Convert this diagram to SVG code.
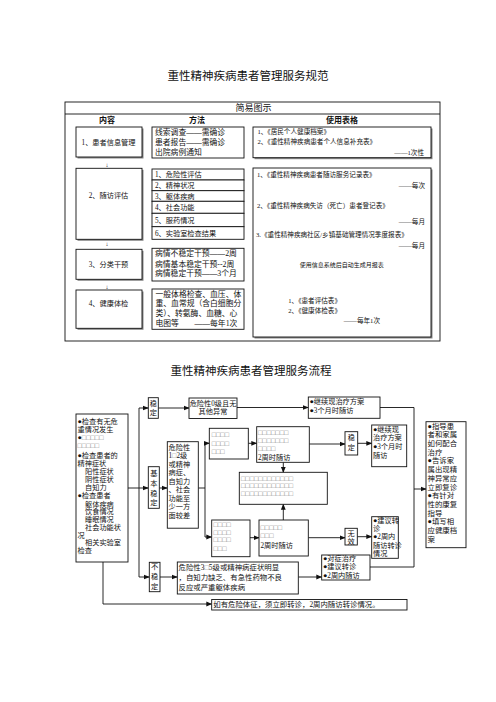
<svg xmlns="http://www.w3.org/2000/svg" width="496" height="702" viewBox="0 0 496 702">
<defs>
<style>
text{font-family:"Liberation Serif","Noto Sans CJK SC",serif;fill:#111}
.ttl{font-family:"Noto Sans CJK SC","Liberation Sans",sans-serif;font-size:11.5px;text-anchor:middle}
.hd{font-family:"Noto Sans CJK SC","Liberation Sans",sans-serif;font-size:8px;font-weight:bold;text-anchor:middle}
.b{fill:#fff;stroke:#111;stroke-width:0.9}
.sh{fill:#888;stroke:none}
.t7{font-size:7.2px}
.t78{font-size:7.8px}
.t66{font-size:6.6px}
.t75{font-size:7.4px}
.m{text-anchor:middle}
.e{text-anchor:end}
.g{fill:#888}
.ln{fill:none;stroke:#111;stroke-width:0.9}
.ar{fill:none;stroke:#111;stroke-width:0.9;marker-end:url(#ah)}
</style>
<marker id="ah" viewBox="0 0 10 10" refX="9" refY="5" markerWidth="6" markerHeight="6" markerUnits="userSpaceOnUse" orient="auto">
<path d="M0,1 L10,5 L0,9 z" fill="#111"/>
</marker>
</defs>
<rect width="496" height="702" fill="#fff"/>

<!-- ===== Table ===== -->
<text class="ttl" x="248" y="79.5">重性精神疾病患者管理服务规范</text>
<g id="table">
<rect class="b" x="65" y="102" width="375" height="239" fill="none"/>
<line class="ln" x1="65" y1="114" x2="440" y2="114"/>
<text class="m" x="253.5" y="111.3" style="font-size:9px">简易图示</text>
<text class="hd" x="107" y="123">内容</text>
<text class="hd" x="197" y="123">方法</text>
<text class="hd" x="342" y="123">使用表格</text>
</g>

<g id="row1">
<rect class="sh" x="77.5" y="128.5" width="66" height="30"/>
<rect class="b" x="76" y="127" width="66" height="30"/>
<text class="t7 m" x="108.5" y="144.7">1、患者信息管理</text>
<rect class="b" x="152" y="127" width="92" height="31"/>
<text class="t78" x="155" y="134.6">线索调查——需确诊</text>
<text class="t78" x="155" y="144.6">患者报告——需确诊</text>
<text class="t78" x="155" y="154.6">出院病例通知</text>
<rect class="sh" x="254.5" y="128.5" width="178" height="30.7"/>
<rect class="b" x="253" y="127" width="178" height="30.7"/>
<text class="t66" x="257.5" y="134.2">1、《居民个人健康档案》</text>
<text class="t66" x="257.5" y="144.2">2、《重性精神疾病患者个人信息补充表》</text>
<text class="t66 e" x="424" y="154.5">——1次性</text>
</g>
<text class="m" x="107" y="166.5" style="font-size:6px">↓</text>

<g id="row2">
<rect class="sh" x="77.5" y="169.8" width="66" height="71"/>
<rect class="b" x="76" y="168.3" width="66" height="71"/>
<text class="t7 m" x="108.5" y="197.7">2、随访评估</text>
<rect class="b" x="152" y="169" width="92" height="11"/>
<rect class="b" x="152" y="180" width="92" height="10.7"/>
<rect class="b" x="152" y="190.7" width="92" height="10.6"/>
<rect class="b" x="152" y="201.3" width="92" height="12"/>
<rect class="b" x="152" y="213.3" width="92" height="13.4"/>
<rect class="b" x="152" y="226.7" width="92" height="12.6"/>
<text class="t7" x="155" y="177.3">1、危险性评估</text>
<text class="t7" x="155" y="188">2、精神状况</text>
<text class="t7" x="155" y="198.7">3、躯体疾病</text>
<text class="t7" x="155" y="209.9">4、社会功能</text>
<text class="t7" x="155" y="222.6">5、服药情况</text>
<text class="t7" x="155" y="235.7">6、实验室检查结果</text>
<rect class="sh" x="254.5" y="169.5" width="178" height="169"/>
<rect class="b" x="253" y="168" width="178" height="169"/>
<text class="t66" x="257" y="176.5">1、《重性精神疾病患者随访服务记录表》</text>
<text class="t66 e" x="425" y="187.5">——每次</text>
<text class="t66" x="257" y="207.5">2、《重性精神疾病失访（死亡）患者登记表》</text>
<text class="t66 e" x="425" y="224.2">——每月</text>
<text class="t66" x="256" y="236.5">3.《重性精神疾病社区/乡镇基础管理情况季度报表》</text>
<text class="t66 e" x="425" y="248.2">——每月</text>
<text class="m" x="341.7" y="267.2" style="font-size:6px">使用信息系统后自动生成月报表</text>
<text class="t66" x="288.3" y="302.5">1、《患者评估表》</text>
<text class="t66" x="288.3" y="312.5">2、《健康体检表》</text>
<text class="t66 e" x="380" y="322.5">——每年1次</text>
</g>
<text class="m" x="107" y="245.5" style="font-size:6px">↓</text>

<g id="row3">
<rect class="sh" x="77.5" y="250.8" width="66" height="30"/>
<rect class="b" x="76" y="249.3" width="66" height="30"/>
<text class="t7 m" x="108.5" y="266.7">3、分类干预</text>
<rect class="b" x="152" y="248.3" width="92" height="32.7"/>
<text class="t78" x="155" y="256.2">病情不稳定干预——2周</text>
<text class="t78" x="155" y="266.8">病情基本稳定干预--2周</text>
<text class="t78" x="155" y="276.2">病情稳定干预——3个月</text>
</g>
<text class="m" x="107" y="288.5" style="font-size:6px">↓</text>

<g id="row4">
<rect class="sh" x="77.5" y="291.5" width="66" height="38.3"/>
<rect class="b" x="76" y="290" width="66" height="38.3"/>
<text class="t7 m" x="108.5" y="306">4、健康体检</text>
<rect class="b" x="152" y="289" width="92" height="40.3"/>
<text class="t78" x="155.5" y="296.9">一般体格检查、血压、体</text>
<text class="t78" x="155.5" y="306.2">重、血常规（含白细胞分</text>
<text class="t78" x="155.5" y="315.6">类）、转氨酶、血糖、心</text>
<text class="t78" x="155.5" y="326.2">电图等　　——每年1次</text>
</g>

<!-- ===== Flow ===== -->
<text class="ttl" x="251" y="374.5">重性精神疾病患者管理服务流程</text>

<g id="connectors">
<polyline class="ar" points="128,488 148.3,488"/>
<polyline class="ln" points="139,408 139,577"/>
<polyline class="ar" points="139,408 148.3,408"/>
<polyline class="ar" points="139,577 149.3,577"/>
<polyline class="ar" points="103,562 103,604 211.7,604"/>
<polyline class="ar" points="158.3,408 189,408"/>
<polyline class="ar" points="237,407.5 308.3,407.5"/>
<polyline class="ln" points="380,407.5 414,407.5 414,567 370,567"/>
<polyline class="ar" points="414,489 426,489"/>
<polyline class="ar" points="159.3,488 167.3,488"/>
<polyline class="ln" points="198.3,488 205,488"/>
<polyline class="ln" points="205,443.3 205,537"/>
<polyline class="ar" points="205,443.3 209.3,443.3"/>
<polyline class="ar" points="205,537 211.7,537"/>
<polyline class="ar" points="248.3,443.3 256.7,443.3"/>
<polyline class="ar" points="283.3,462.3 283.3,472.3"/>
<polyline class="ar" points="250,537.7 259,537.7"/>
<polyline class="ar" points="283.3,520 283.3,504.3"/>
<polyline class="ar" points="309.3,444 345,444"/>
<polyline class="ar" points="357.7,443.3 371.7,443.3"/>
<polyline class="ar" points="308.3,537.7 345,537.7"/>
<polyline class="ar" points="357.3,536.7 371.7,536.7"/>
<polyline class="ar" points="160,577 177.3,577"/>
<polyline class="ar" points="298.3,577 321.7,577"/>
</g>

<g id="check">
<rect class="b" x="76" y="414" width="52" height="148"/>
<text class="t7" x="77.5" y="423.7">●检查有无危</text>
<text class="t7" x="77.5" y="431.7">重情况发生</text>
<text class="t7" x="77.5" y="440">●<tspan class="g">□□□□□</tspan></text>
<text class="t7 g" x="77.5" y="448">□□□□□</text>
<text class="t7" x="77.5" y="457.7">●检查患者的</text>
<text class="t7" x="77.5" y="465.7">精神症状</text>
<text class="t7" x="85" y="473.7">阳性症状</text>
<text class="t7" x="85" y="481.7">阴性症状</text>
<text class="t7" x="85" y="489.7">自知力</text>
<text class="t7" x="77.5" y="498">●检查患者</text>
<text class="t7" x="85" y="506.5">躯体疾病</text>
<text class="t7" x="85" y="514.3">饮食情况</text>
<text class="t7" x="85" y="522">睡眠情况</text>
<text class="t7" x="85" y="529.8">社会功能状</text>
<text class="t7" x="77.5" y="537.6">况</text>
<text class="t7" x="85" y="545.4">相关实验室</text>
<text class="t7" x="77.5" y="553.2">检查</text>
</g>

<g id="stable1">
<rect class="b" x="148.3" y="397.7" width="10" height="20.6"/>
<text class="t7 m" x="153.3" y="405.8">稳</text>
<text class="t7 m" x="153.3" y="415.4">定</text>
</g>
<g id="risk0">
<rect class="b" x="189" y="398" width="48" height="20.5"/>
<text class="t7 m" x="213" y="406">危险性0级且无</text>
<text class="t7 m" x="213" y="413.7">其他异常</text>
</g>
<g id="keep1">
<rect class="b" x="308.3" y="397" width="71.7" height="21.3"/>
<text class="t7" x="309.5" y="404.4">●继续现治疗方案</text>
<text class="t7" x="309.5" y="412.7">●3个月时随访</text>
</g>

<g id="basic">
<rect class="b" x="148.3" y="466.7" width="11" height="41.6"/>
<text class="t7 m" x="153.8" y="476">基</text>
<text class="t7 m" x="153.8" y="486">本</text>
<text class="t7 m" x="153.8" y="496">稳</text>
<text class="t7 m" x="153.8" y="505">定</text>
</g>
<g id="risk12">
<rect class="b" x="167.3" y="441.7" width="31" height="86.5"/>
<text class="t7" x="168.5" y="449.5">危险性</text>
<text class="t7" x="168.5" y="458">1<tspan class="g">□</tspan>2级</text>
<text class="t7" x="168.5" y="466.5">或精神</text>
<text class="t7" x="168.5" y="475">病症、</text>
<text class="t7" x="168.5" y="483.5">自知力</text>
<text class="t7" x="168.5" y="492">、社会</text>
<text class="t7" x="168.5" y="500.5">功能至</text>
<text class="t7" x="168.5" y="509">少一方</text>
<text class="t7" x="168.5" y="517.5">面较差</text>
</g>
<g id="boxA">
<rect class="b" x="209.3" y="428.3" width="39" height="30.7"/>
<text class="t7 g" x="211.7" y="437">□□□□</text>
<text class="t7 g" x="211.7" y="446">□□□□</text>
<text class="t7 g" x="211.7" y="454.4">□□□</text>
</g>
<g id="boxB">
<rect class="b" x="256.7" y="426.7" width="52.6" height="35.6"/>
<text class="t7 g" x="258" y="435">□□□□□□□</text>
<text class="t7 g" x="258" y="443">□□□□□□□</text>
<text class="t7 g" x="258" y="451">□□□□</text>
<text class="t7" x="258" y="459.5">2周时随访</text>
</g>
<g id="boxD">
<rect class="b" x="239.3" y="472.3" width="88" height="32"/>
<text class="t7 g" x="241" y="481">□□□□□□□□□□□□</text>
<text class="t7 g" x="241" y="488.4">□□□□□□□□□□□□</text>
<text class="t7 g" x="241" y="496">□□□□□□□□□□□□</text>
</g>
<g id="boxC">
<rect class="b" x="211.7" y="520" width="38.3" height="36.7"/>
<text class="t7 g" x="213.5" y="527">□□□□</text>
<text class="t7 g" x="213.5" y="534.5">□□□□</text>
<text class="t7 g" x="213.5" y="542">□□□□</text>
<text class="t7 g" x="213.5" y="550.5">□□□</text>
</g>
<g id="boxE">
<rect class="b" x="259" y="520" width="49.3" height="36"/>
<text class="t7 g" x="260.5" y="530.4">□□□□□</text>
<text class="t7 g" x="260.5" y="538.4">□□□</text>
<text class="t7" x="260.5" y="548.4">2周时随访</text>
</g>
<g id="stable2">
<rect class="b" x="345" y="431.7" width="12.7" height="23.3"/>
<text class="t7 m" x="351.3" y="440.4">稳</text>
<text class="t7 m" x="351.3" y="450.4">定</text>
</g>
<g id="boxF">
<rect class="b" x="371.7" y="425" width="35" height="41.7"/>
<text class="t7" x="373" y="431.7">●继续现</text>
<text class="t7" x="373" y="440">治疗方案</text>
<text class="t7" x="373" y="448.7">●3个月时</text>
<text class="t7" x="373" y="457.7">随访</text>
</g>
<g id="invalid">
<rect class="b" x="345" y="528.3" width="12.3" height="16.7"/>
<text class="t7 m" x="351.2" y="536">无</text>
<text class="t7 m" x="351.2" y="543.7">效</text>
</g>
<g id="boxG">
<rect class="b" x="371.7" y="516.7" width="26.6" height="41.6"/>
<text class="t7" x="373" y="522.7">●建议转</text>
<text class="t7" x="373" y="531">诊</text>
<text class="t7" x="373" y="539.4">●2周内</text>
<text class="t7" x="373" y="547.7">随访转诊</text>
<text class="t7" x="373" y="556">情况</text>
</g>
<g id="unstable">
<rect class="b" x="149.3" y="562.3" width="10.7" height="29.4"/>
<text class="t7 m" x="154.6" y="569.4">不</text>
<text class="t7 m" x="154.6" y="579.4">稳</text>
<text class="t7 m" x="154.6" y="589.4">定</text>
</g>
<g id="risk35">
<rect class="b" x="177.3" y="562" width="121" height="32"/>
<text class="t75" x="178.5" y="569.5">危险性3<tspan class="g">□</tspan>5级或精神病症状明显</text>
<text class="t75" x="178.5" y="579.5">，自知力缺乏、有急性药物不良</text>
<text class="t75" x="178.5" y="589.5">反应或严重躯体疾病</text>
</g>
<g id="boxH">
<rect class="b" x="321.7" y="555" width="48.3" height="25"/>
<text class="t7" x="323" y="561">●对症治疗</text>
<text class="t7" x="323" y="569.4">●建议转诊</text>
<text class="t7" x="323" y="577.7">●2周内随访</text>
</g>
<g id="guide">
<rect class="b" x="426" y="421.7" width="40" height="126"/>
<text class="t75" x="427.5" y="428.5">●指导患</text>
<text class="t75" x="427.5" y="437.3">者和家属</text>
<text class="t75" x="427.5" y="446">如何配合</text>
<text class="t75" x="427.5" y="454.7">治疗</text>
<text class="t75" x="427.5" y="463.4">●告诉家</text>
<text class="t75" x="427.5" y="472.1">属出现精</text>
<text class="t75" x="427.5" y="480.8">神异常应</text>
<text class="t75" x="427.5" y="489.5">立即复诊</text>
<text class="t75" x="427.5" y="498.2">●有针对</text>
<text class="t75" x="427.5" y="506.9">性的康复</text>
<text class="t75" x="427.5" y="515.6">指导</text>
<text class="t75" x="427.5" y="524.3">●填写相</text>
<text class="t75" x="427.5" y="533">应健康档</text>
<text class="t75" x="427.5" y="541.7">案</text>
</g>
<g id="boxI">
<rect class="b" x="211.7" y="599.5" width="195.3" height="10.5"/>
<text class="t75" x="213.3" y="607.3">如有危险体征，须立即转诊，2周内随访转诊情况。</text>
</g>
</svg>
